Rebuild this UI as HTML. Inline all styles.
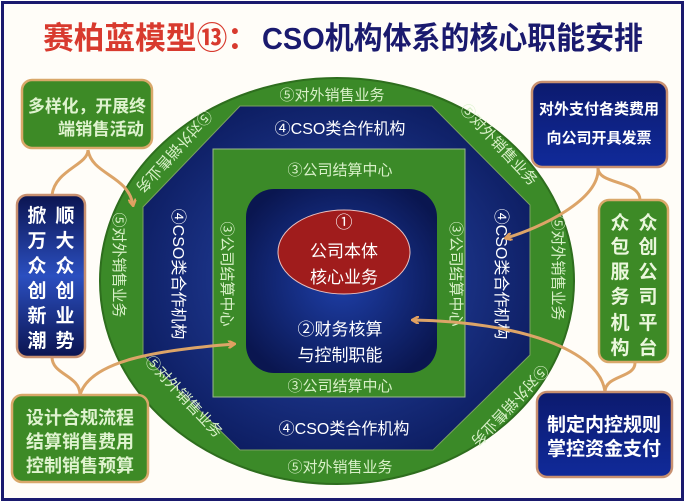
<!DOCTYPE html>
<html><head><meta charset="utf-8"><style>
html,body{margin:0;padding:0;background:#fff;}
svg{display:block;font-family:"Liberation Sans","Noto Sans CJK SC",sans-serif;}
</style></head><body>
<svg width="685" height="502" viewBox="0 0 685 502" xmlns="http://www.w3.org/2000/svg">
<defs>
<radialGradient id="bl" cx="50%" cy="50%" r="60%"><stop offset="0" stop-color="#2a4bb0"/><stop offset="1" stop-color="#0b1a5c"/></radialGradient>
<radialGradient id="bl2" cx="50%" cy="50%" r="60%"><stop offset="0" stop-color="#1e3fa8"/><stop offset="1" stop-color="#0a1650"/></radialGradient>
<linearGradient id="bx" x1="0" y1="0" x2="0" y2="1"><stop offset="0" stop-color="#0c1a6e"/><stop offset="1" stop-color="#102a9a"/></linearGradient>
<linearGradient id="bx2" x1="0" y1="0" x2="0" y2="1"><stop offset="0" stop-color="#0b1450"/><stop offset="0.5" stop-color="#2b4fc0"/><stop offset="1" stop-color="#0b1450"/></linearGradient>
<marker id="ar" markerWidth="8" markerHeight="8" refX="6" refY="4" orient="auto" markerUnits="userSpaceOnUse"><path d="M0,0 L7,4 L0,8" fill="none" stroke="#e0a060" stroke-width="2.5"/></marker>
</defs>
<rect x="0" y="0" width="685" height="502" fill="#fff"/>
<rect x="2.5" y="2.5" width="680" height="497" fill="#fffdf8" stroke="#1a1a6e" stroke-width="3"/>
<text x="43" y="49" font-size="31" font-weight="bold" fill="#d83a2e" textLength="215" lengthAdjust="spacingAndGlyphs">赛柏蓝模型⑬：</text>
<text x="262" y="49" font-size="31" font-weight="bold" fill="#1a1a6e" textLength="381" lengthAdjust="spacingAndGlyphs">CSO机构体系的核心职能安排</text>

<ellipse cx="337" cy="281" rx="237" ry="203" fill="#3b8a28" stroke="#2e6e1e" stroke-width="2"/>
<polygon points="240,106 432,106 530,205 530,355 433,450 240,450 143,355 143,207" fill="url(#bl)" stroke="#7aa060" stroke-width="1"/>
<rect x="213" y="149" width="252" height="248" fill="#3b8a28" stroke="#9ab88a" stroke-width="1"/>
<rect x="246" y="189" width="191" height="184" rx="28" fill="url(#bl2)"/>
<ellipse cx="344" cy="252" rx="66" ry="42" fill="#a01c1c" stroke="#e8c0c0" stroke-width="1"/>

<g fill="#fff" font-size="17" text-anchor="middle">
<text x="344" y="228">①</text>
<text x="344" y="257">公司本体</text>
<text x="344" y="283">核心业务</text>
<text x="340" y="335">②财务核算</text>
<text x="340" y="361">与控制职能</text>
</g>
<g fill="#d8f0c8" font-size="15" text-anchor="middle">
<text x="340" y="175">③公司结算中心</text>
<text x="340" y="391">③公司结算中心</text>
<text transform="translate(222,274) rotate(90)">③公司结算中心</text>
<text transform="translate(451,274) rotate(90)">③公司结算中心</text>
</g>
<g fill="#fff" font-size="16" text-anchor="middle">
<text x="340" y="134">④CSO类合作机构</text>
<text x="344" y="434">④CSO类合作机构</text>
<text transform="translate(173,274) rotate(90)">④CSO类合作机构</text>
<text transform="translate(496,274) rotate(90)">④CSO类合作机构</text>
</g>
<g fill="#d8f0c8" font-size="15" text-anchor="middle">
<text x="332" y="100">⑤对外销售业务</text>
<text x="340" y="472">⑤对外销售业务</text>
<text transform="translate(114,265) rotate(90)">⑤对外销售业务</text>
<text transform="translate(553,268) rotate(90)">⑤对外销售业务</text>
<text transform="translate(170,148) rotate(132)">⑤对外销售业务</text>
<text transform="translate(495,148) rotate(47)">⑤对外销售业务</text>
<text transform="translate(180,400) rotate(47)">⑤对外销售业务</text>
<text transform="translate(506,402) rotate(133)">⑤对外销售业务</text>
</g>

<g fill="none" stroke="#dca468" stroke-width="3">
<path d="M88,150 C88,165 55,170 52,195"/>
<path d="M88,150 C92,175 128,175 133,205" marker-end="url(#ar)"/>
<path d="M52,357 C52,375 80,375 80,395"/>
<path d="M80,395 C90,360 160,350 234,344" marker-end="url(#ar)"/>
<path d="M598,168 C598,185 640,180 640,200"/>
<path d="M598,168 C600,200 540,228 506,238" marker-end="url(#ar)"/>
<path d="M635,363 C635,378 605,375 605,392"/>
<path d="M605,392 C600,350 520,322 413,320" marker-end="url(#ar)"/>
</g>

<rect x="22" y="80" width="130" height="68" rx="10" fill="#3d8a26" stroke="#d9a86a" stroke-width="2.5"/>
<g fill="#dff3cf" font-size="17" font-weight="bold">
<text x="28" y="112" textLength="118" lengthAdjust="spacingAndGlyphs">多样化，开展终</text>
<text x="58" y="135" textLength="86" lengthAdjust="spacingAndGlyphs">端销售活动</text>
</g>
<rect x="17" y="195" width="68" height="162" rx="10" fill="url(#bx2)" stroke="#c89070" stroke-width="2.5"/>
<g fill="#fff" font-size="19" font-weight="bold" text-anchor="middle">
<text x="37" y="222">掀</text><text x="65" y="222">顺</text>
<text x="37" y="247">万</text><text x="65" y="247">大</text>
<text x="37" y="272">众</text><text x="65" y="272">众</text>
<text x="37" y="297">创</text><text x="65" y="297">创</text>
<text x="37" y="322">新</text><text x="65" y="322">业</text>
<text x="37" y="347">潮</text><text x="65" y="347">势</text>
</g>
<rect x="12" y="395" width="136" height="87" rx="10" fill="#3d8a26" stroke="#d9a86a" stroke-width="2.5"/>
<g fill="#dff3cf" font-size="18" font-weight="bold" text-anchor="middle">
<text x="80" y="424">设计合规流程</text>
<text x="80" y="448">结算销售费用</text>
<text x="80" y="472">控制销售预算</text>
</g>
<rect x="532" y="82" width="135" height="85" rx="10" fill="url(#bx)" stroke="#c89070" stroke-width="2.5"/>
<g fill="#fff" font-size="15" font-weight="bold" text-anchor="middle">
<text x="599" y="114">对外支付各类费用</text>
<text x="599" y="143">向公司开具发票</text>
</g>
<rect x="599" y="200" width="69" height="162" rx="10" fill="#3d8a26" stroke="#d9a86a" stroke-width="2.5"/>
<g fill="#eaf7dc" font-size="19" font-weight="bold" text-anchor="middle">
<text x="620" y="229">众</text><text x="648" y="229">众</text>
<text x="620" y="253">包</text><text x="648" y="253">创</text>
<text x="620" y="278">服</text><text x="648" y="278">公</text>
<text x="620" y="303">务</text><text x="648" y="303">司</text>
<text x="620" y="329">机</text><text x="648" y="329">平</text>
<text x="620" y="354">构</text><text x="648" y="354">台</text>
</g>
<rect x="537" y="392" width="135" height="85" rx="10" fill="url(#bx)" stroke="#c89070" stroke-width="2.5"/>
<g fill="#fff" font-size="19" font-weight="bold" text-anchor="middle">
<text x="604" y="431">制定内控规则</text>
<text x="604" y="455">掌控资金支付</text>
</g>
</svg>
</body></html>
